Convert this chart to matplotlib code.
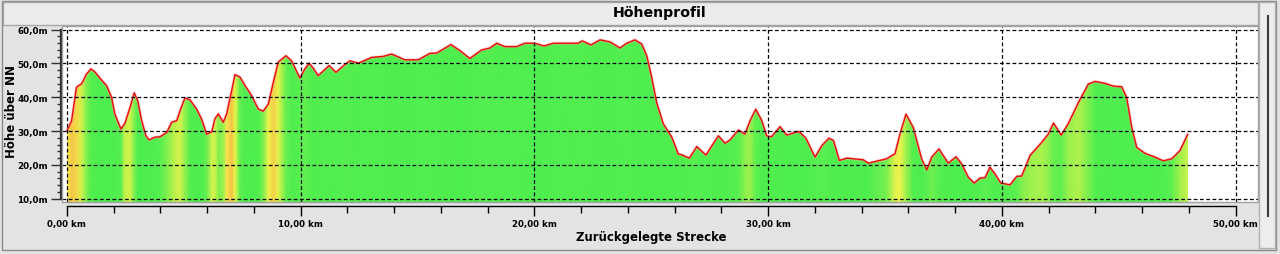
import numpy as np
import matplotlib.pyplot as plt
from matplotlib.colors import LinearSegmentedColormap, Normalize
from matplotlib.patches import Rectangle, Polygon
from matplotlib.lines import Line2D
plt.rcParams.update({'font.family': 'DejaVu Sans'})

# Streckenprofil (km, m über NN)
strecke = [0.0, 0.2, 0.41, 0.63, 0.84, 1.03, 1.2, 1.41, 1.7, 1.91, 2.05, 2.31, 2.48, 2.7, 2.88,
           3.03, 3.2, 3.38, 3.52, 3.77, 3.98, 4.27, 4.48, 4.7, 4.84, 5.05, 5.27, 5.55, 5.76, 5.98,
           6.2, 6.33, 6.48, 6.69, 6.83, 7.05, 7.19, 7.4, 7.62, 7.9, 8.19, 8.4, 8.62, 8.83, 9.04,
           9.37, 9.61, 9.97, 10.18, 10.37, 10.55, 10.75, 10.97, 11.22, 11.51, 11.84, 12.11, 12.47,
           13.04, 13.53, 13.89, 14.46, 15.03, 15.53, 15.82, 16.43, 16.82, 17.24, 17.74, 18.1,
           18.39, 18.74, 19.24, 19.6, 20.03, 20.41, 20.81, 21.88, 22.05, 22.42, 22.81, 23.24,
           23.66, 23.95, 24.3, 24.59, 24.81, 25.02, 25.23, 25.52, 25.88, 26.16, 26.3, 26.63,
           26.95, 27.34, 27.87, 28.16, 28.37, 28.73, 29.01, 29.23, 29.47, 29.73, 29.94, 30.14,
           30.51, 30.8, 31.3, 31.61, 32.01, 32.3, 32.6, 32.8, 33.05, 33.37, 34.07, 34.29, 35.07,
           35.43, 35.64, 35.9, 36.21, 36.57, 36.79, 37.0, 37.31, 37.71, 38.04, 38.28, 38.57,
           38.82, 39.07, 39.28, 39.49, 39.71, 39.96, 40.35, 40.64, 40.85, 41.21, 41.71, 41.99,
           42.21, 42.54, 42.85, 43.28, 43.7, 43.99, 44.42, 44.77, 45.13, 45.34, 45.56, 45.77,
           46.13, 46.48, 46.91, 47.27, 47.62, 47.95]
hoehe = [30.0, 33.1, 43.0, 44.0, 46.9, 48.4, 47.5, 45.7, 43.4, 40.0, 35.1, 30.6, 32.3, 37.0, 41.3,
         39.0, 33.1, 28.6, 27.4, 28.2, 28.3, 29.6, 32.6, 33.1, 36.0, 39.8, 39.2, 36.5, 33.6, 29.1,
         29.8, 33.6, 35.1, 32.6, 35.0, 42.0, 46.7, 46.0, 43.5, 40.5, 36.5, 35.9, 38.0, 44.4, 50.4,
         52.3, 50.8, 45.7, 48.4, 50.1, 48.5, 46.4, 47.8, 49.4, 47.4, 49.4, 50.8, 50.1,
         51.8, 52.1, 52.8, 51.1, 51.1, 53.0, 53.1, 55.6, 53.8, 51.5, 54.0, 54.6,
         56.0, 55.0, 55.0, 56.0, 56.0, 55.2, 56.0, 56.0, 56.7, 55.5, 57.0, 56.4,
         54.6, 56.0, 57.0, 55.8, 52.3, 45.9, 38.5, 32.1, 28.2, 23.2, 23.0, 22.0,
         25.4, 22.9, 28.6, 26.4, 27.4, 30.3, 29.1, 33.1, 36.5, 33.1, 28.6, 28.3,
         31.3, 28.8, 29.9, 28.0, 22.3, 25.7, 27.9, 27.2, 21.3, 22.0, 21.5, 20.5, 21.8,
         23.3, 29.1, 35.0, 31.1, 21.8, 18.5, 22.3, 24.7, 20.5, 22.4, 20.3, 16.3,
         14.6, 16.1, 16.2, 19.3, 17.3, 14.6, 14.1, 16.6, 16.7, 22.8, 26.7, 29.1,
         32.4, 28.8, 32.3, 38.5, 43.9, 44.7, 44.1, 43.3, 43.1, 40.0, 31.1, 25.2,
         23.4, 22.5, 21.2, 21.8, 24.2, 29.0]

y_ticks = [10, 20, 30, 40, 50, 60]
y_labels = ["10,0m", "20,0m", "30,0m", "40,0m", "50,0m", "60,0m"]
x_ticks = [0, 10, 20, 30, 40, 50]
x_labels = ["0,00 km", "10,00 km", "20,00 km", "30,00 km", "40,00 km", "50,00 km"]

strecke = np.array(strecke)
hoehe = np.array(hoehe)
ymin, ymax = 9.0, 61.1
xmin, xmax = -0.21, 50.96

W, H = 1280, 255
fig = plt.figure(figsize=(W / 100, H / 100), dpi=100, facecolor='#e3e3e3')

def px(x0, y0, w, h):
    # Pixelrechteck -> Figurkoordinaten
    return (x0 / W, 1 - (y0 + h) / H, w / W, h / H)

# Rahmen, Titelleiste, rechte Leiste
r = px(2, 2, 1274, 249)
fig.add_artist(Rectangle(r[:2], r[2], r[3], transform=fig.transFigure, fill=False, ec='#8a8a8a', lw=1))
r = px(3, 3, 1255, 23)
fig.add_artist(Rectangle(r[:2], r[2], r[3], transform=fig.transFigure, fc='#ececec', ec='#a6a6a6', lw=1))
r = px(1259, 3, 16, 246)
fig.add_artist(Rectangle(r[:2], r[2], r[3], transform=fig.transFigure, fc='#ededed', ec='#b0b0b0', lw=1))
fig.add_artist(Line2D([1267.5 / W] * 2, [1 - 17 / H, 1 - 217 / H], transform=fig.transFigure,
                      color='#3a3a3a', lw=1.5))

ax = fig.add_axes(px(62, 27, 1196, 176))
ax.set_facecolor('white')
ax.set_xlim(xmin, xmax)
ax.set_ylim(ymin, ymax)

# Farbverlauf nach Steigung (nur bergauf gelb/orange), etwas verwischt
steigung = np.clip(np.gradient(hoehe, strecke), 0, None)
steigung = np.convolve(np.r_[steigung[0], steigung, steigung[-1]], [0.3, 0.45, 0.3], mode='valid')
cmap = LinearSegmentedColormap.from_list('steigung', [
    (0.0, '#4eee4e'), (0.15, '#58ef50'), (0.4, '#bdf24c'), (0.62, '#f4f44c'), (1.0, '#f4a444')])
X = np.vstack([strecke, strecke])
Y = np.vstack([np.full_like(strecke, ymin), np.full_like(strecke, ymax)])
C = np.vstack([steigung, steigung])
mesh = ax.pcolormesh(X, Y, C, cmap=cmap, norm=Normalize(0, 32), shading='gouraud', zorder=1)
poly_xy = np.column_stack([np.r_[strecke[0], strecke, strecke[-1]],
                           np.r_[ymin, hoehe, ymin]])
flaeche = Polygon(poly_xy, closed=True, fc='none', ec='none')
ax.add_patch(flaeche)
mesh.set_clip_path(flaeche)

ax.plot(strecke, hoehe, color='#ff9a9a', lw=2.2, alpha=0.45, zorder=3)
ax.plot(strecke, hoehe, color='#e80c0c', lw=1.0, zorder=4)

# Gitter über der Fläche
for y in y_ticks:
    ax.axhline(y, color='black', lw=0.9, ls=(0, (3, 2)), zorder=5)
for x in x_ticks:
    ax.axvline(x, color='black', lw=0.9, ls=(0, (3, 2)), zorder=5)

for s in ['top', 'right']:
    ax.spines[s].set_visible(False)
ax.add_patch(Rectangle((0, 0), 1, 1, transform=ax.transAxes, fill=False, ec='#a0a0a0',
                       lw=1, zorder=6, clip_on=False))
ax.spines['left'].set_position(('outward', 1))
ax.spines['left'].set_bounds(10, 60)
ax.spines['left'].set_color('#303030')
ax.spines['left'].set_linewidth(1.6)
ax.spines['bottom'].set_position(('outward', 3))
ax.spines['bottom'].set_bounds(0, 50)
ax.spines['bottom'].set_color('black')
ax.spines['bottom'].set_linewidth(1.0)

ax.set_yticks(y_ticks)
ax.set_yticklabels(y_labels, fontsize=6.3, fontweight='bold')
ax.set_yticks(np.arange(10, 61, 2), minor=True)
ax.set_xticks(x_ticks)
ax.set_xticklabels(x_labels, fontsize=6.2, fontweight='bold')
ax.set_xticks(np.arange(0, 51, 2), minor=True)
ax.tick_params(axis='y', which='major', length=7, width=1, pad=2, color='#303030')
ax.tick_params(axis='y', which='minor', length=3, width=1, color='#303030')
ax.tick_params(axis='x', which='major', length=7, width=1, pad=2)
ax.tick_params(axis='x', which='minor', length=5, width=1)

fig.text(660 / W, 1 - 13 / H, "Höhenprofil", ha='center', va='center', fontsize=10.2, fontweight='bold')
fig.text(651 / W, 1 - 238 / H, "Zurückgelegte Strecke", ha='center', va='center', fontsize=8.5,
         fontweight='bold')
fig.text(12 / W, 1 - 112 / H, "Höhe über NN", ha='center', va='center', rotation=90, fontsize=8.5,
         fontweight='bold')

fig.savefig('out.png', dpi=100, facecolor=fig.get_facecolor())
